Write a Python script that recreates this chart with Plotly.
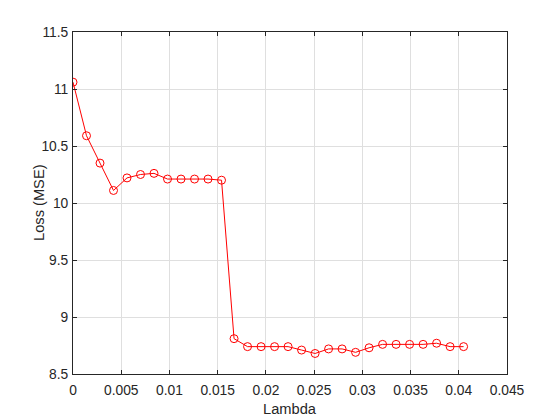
import plotly.graph_objects as go

lambda_vals = [0.0, 0.0014, 0.0028, 0.0042, 0.0056, 0.0070, 0.0084, 0.0098, 0.0112, 0.0126,
               0.0140, 0.0154, 0.0167, 0.0181, 0.0195, 0.0209, 0.0223, 0.0237, 0.0251, 0.0265,
               0.0279, 0.0293, 0.0307, 0.0321, 0.0335, 0.0349, 0.0363, 0.0377, 0.0391, 0.0405]
loss_mse = [11.06, 10.59, 10.35, 10.11, 10.22, 10.25, 10.26, 10.21, 10.21, 10.21,
            10.21, 10.20, 8.81, 8.74, 8.74, 8.74, 8.74, 8.71, 8.68, 8.72,
            8.72, 8.69, 8.73, 8.76, 8.76, 8.76, 8.76, 8.77, 8.74, 8.74]

x_ticks = [0, 0.005, 0.01, 0.015, 0.02, 0.025, 0.03, 0.035, 0.04, 0.045]
x_tick_labels = ["0", "0.005", "0.01", "0.015", "0.02", "0.025", "0.03", "0.035", "0.04", "0.045"]
y_ticks = [8.5, 9, 9.5, 10, 10.5, 11, 11.5]
y_tick_labels = ["8.5", "9", "9.5", "10", "10.5", "11", "11.5"]
x_title = "Lambda"
y_title = "Loss (MSE)"

FONT = "Liberation Sans, Arial, Helvetica, sans-serif"
AX = "#262626"

fig = go.Figure()
fig.add_trace(go.Scatter(
    x=lambda_vals, y=loss_mse, mode="lines+markers",
    line=dict(color="#ff0000", width=1),
    marker=dict(symbol="circle-open", size=8, color="#ff0000", line=dict(width=1, color="#ff0000")),
    showlegend=False,
))

axis_common = dict(
    showline=True, linecolor=AX, linewidth=1, mirror="ticks",
    ticks="inside", ticklen=4, tickcolor=AX, tickwidth=1,
    showgrid=True, gridcolor="#dfdfdf", gridwidth=1, zeroline=False,
    tickfont=dict(family=FONT, size=13.8, color=AX),
    automargin=False,
)

fig.update_layout(
    width=560, height=420,
    paper_bgcolor="white", plot_bgcolor="white",
    margin=dict(l=73, r=53, t=32, b=46),
    font=dict(family=FONT, color=AX),
    xaxis=dict(range=[0, 0.045], tickvals=x_ticks, ticktext=x_tick_labels, ticklabelstandoff=3,
               **axis_common),
    yaxis=dict(range=[8.5, 11.5], tickvals=y_ticks, ticktext=y_tick_labels, ticklabelstandoff=1,
               **axis_common),
    annotations=[
        dict(text=x_title, xref="paper", yref="paper", x=0.5, y=0, xanchor="center", yanchor="middle",
             yshift=-35, showarrow=False, font=dict(family=FONT, size=14.67, color=AX)),
        dict(text=y_title, xref="paper", yref="paper", x=0, y=0.5, xanchor="center", yanchor="middle",
             xshift=-34, textangle=-90, showarrow=False, font=dict(family=FONT, size=14.67, color=AX)),
    ],
)

fig.write_html("out.html", config={"displayModeBar": False},
               post_script="document.body.style.margin='0px';document.body.style.overflow='hidden';")
